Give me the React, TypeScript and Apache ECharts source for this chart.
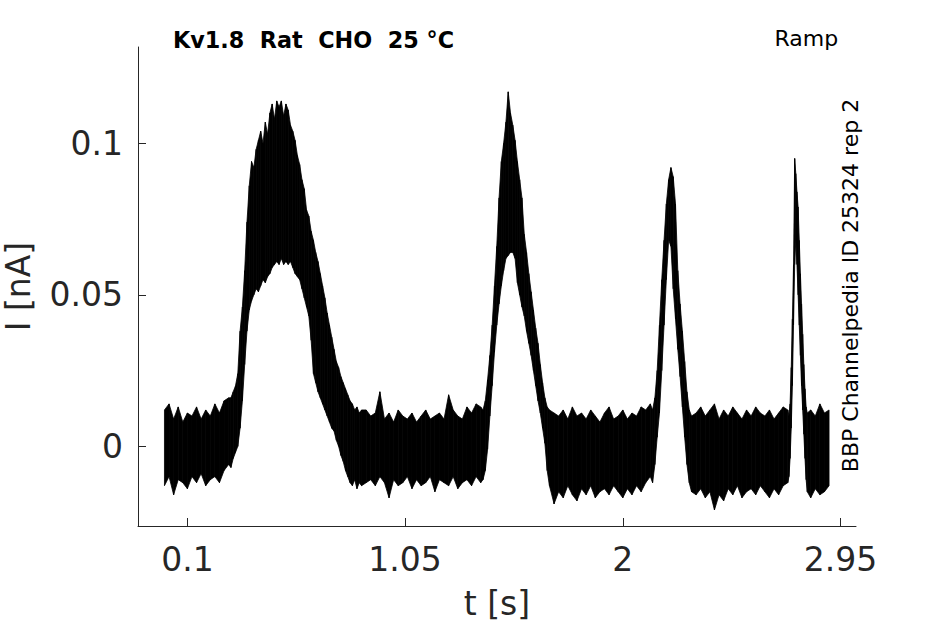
import React, { useEffect, useRef } from "react";
import * as echarts from "echarts";

// ---- axis ticks ----
const X_TICKS = [0.1, 1.05, 2, 2.95];
const X_TICK_LABELS = ["0.1", "1.05", "2", "2.95"];
const Y_TICKS = [0, 0.05, 0.1];
const Y_TICK_LABELS = ["0", "0.05", "0.1"];

// ---- trace envelope (upper / lower extent of the overlaid sweeps) ----
// baseline 0 .. 0.28 s, every 0.02 s
const BASE_A_HI = [0.012, 0.014, 0.009, 0.013, 0.008, 0.011, 0.010, 0.013, 0.009, 0.012, 0.010, 0.014, 0.011, 0.015, 0.016];
const BASE_A_LO = [-0.013, -0.010, -0.016, -0.011, -0.012, -0.014, -0.010, -0.012, -0.009, -0.013, -0.011, -0.010, -0.012, -0.008, -0.006];

// first hump 0.29 .. 0.86 s, every 0.01 s
const HUMP1_HI = [0.016, 0.018, 0.020, 0.024, 0.038, 0.046, 0.058, 0.074, 0.086, 0.094, 0.092, 0.098, 0.101, 0.104, 0.100, 0.107, 0.103, 0.110, 0.113, 0.108, 0.114, 0.112, 0.114, 0.109, 0.113, 0.111, 0.106, 0.104, 0.101, 0.096, 0.093, 0.088, 0.085, 0.078, 0.076, 0.071, 0.068, 0.064, 0.061, 0.057, 0.053, 0.049, 0.044, 0.040, 0.036, 0.032, 0.028, 0.026, 0.023, 0.021, 0.019, 0.017, 0.015, 0.014, 0.012, 0.013, 0.011, 0.012];
const HUMP1_LO = [-0.007, -0.004, -0.002, 0.000, 0.006, 0.015, 0.027, 0.038, 0.045, 0.048, 0.050, 0.052, 0.051, 0.053, 0.055, 0.054, 0.056, 0.057, 0.059, 0.060, 0.061, 0.060, 0.062, 0.060, 0.061, 0.060, 0.061, 0.059, 0.057, 0.056, 0.055, 0.052, 0.049, 0.046, 0.043, 0.035, 0.024, 0.021, 0.018, 0.016, 0.014, 0.012, 0.010, 0.008, 0.006, 0.005, 0.002, 0.000, -0.003, -0.005, -0.008, -0.010, -0.012, -0.013, -0.011, -0.014, -0.012, -0.013];

// baseline 0.88 .. 1.38 s, every 0.02 s
const BASE_B_HI = [0.012, 0.010, 0.011, 0.018, 0.009, 0.011, 0.008, 0.012, 0.010, 0.009, 0.011, 0.008, 0.010, 0.012, 0.009, 0.010, 0.011, 0.009, 0.017, 0.012, 0.010, 0.009, 0.013, 0.011, 0.014, 0.013];
const BASE_B_LO = [-0.012, -0.011, -0.013, -0.010, -0.012, -0.017, -0.011, -0.013, -0.012, -0.010, -0.014, -0.011, -0.013, -0.012, -0.010, -0.015, -0.011, -0.012, -0.013, -0.010, -0.014, -0.012, -0.011, -0.013, -0.010, -0.012];

// second peak 1.39 .. 1.68 s, every 0.01 s
const PEAK2_HI = [0.012, 0.015, 0.022, 0.030, 0.040, 0.053, 0.066, 0.082, 0.094, 0.100, 0.107, 0.117, 0.110, 0.106, 0.101, 0.094, 0.088, 0.082, 0.070, 0.064, 0.057, 0.051, 0.045, 0.039, 0.034, 0.027, 0.021, 0.016, 0.013, 0.012];
const PEAK2_LO = [-0.011, -0.008, -0.001, 0.010, 0.020, 0.031, 0.040, 0.047, 0.053, 0.058, 0.062, 0.063, 0.064, 0.064, 0.062, 0.054, 0.050, 0.046, 0.043, 0.038, 0.034, 0.030, 0.025, 0.020, 0.015, 0.011, 0.006, 0.001, -0.008, -0.013];

// baseline 1.70 .. 2.12 s, every 0.02 s
const BASE_C_HI = [0.011, 0.010, 0.012, 0.009, 0.013, 0.010, 0.011, 0.009, 0.012, 0.010, 0.008, 0.011, 0.013, 0.009, 0.010, 0.012, 0.009, 0.011, 0.010, 0.013, 0.012, 0.014];
const BASE_C_LO = [-0.019, -0.015, -0.017, -0.013, -0.016, -0.018, -0.014, -0.016, -0.013, -0.017, -0.015, -0.014, -0.016, -0.013, -0.015, -0.017, -0.014, -0.016, -0.013, -0.015, -0.012, -0.010];

// third peak 2.13 .. 2.30 s, every 0.01 s
const PEAK3_HI = [0.012, 0.016, 0.025, 0.040, 0.055, 0.068, 0.080, 0.088, 0.092, 0.089, 0.080, 0.058, 0.047, 0.038, 0.028, 0.018, 0.012, 0.010];
const PEAK3_LO = [-0.012, -0.006, 0.003, 0.011, 0.025, 0.040, 0.055, 0.068, 0.066, 0.052, 0.042, 0.032, 0.023, 0.013, 0.003, -0.006, -0.012, -0.015];

// baseline 2.32 .. 2.72 s, every 0.02 s
const BASE_D_HI = [0.011, 0.013, 0.010, 0.012, 0.014, 0.009, 0.012, 0.010, 0.013, 0.011, 0.009, 0.012, 0.010, 0.013, 0.011, 0.010, 0.012, 0.009, 0.011, 0.013, 0.012];
const BASE_D_LO = [-0.016, -0.014, -0.017, -0.015, -0.021, -0.016, -0.018, -0.014, -0.016, -0.013, -0.017, -0.015, -0.014, -0.016, -0.013, -0.015, -0.017, -0.014, -0.016, -0.013, -0.012];

// fourth peak 2.725 .. 2.805 s, every 0.005 s
const PEAK4_HI = [0.010, 0.014, 0.026, 0.042, 0.060, 0.095, 0.090, 0.084, 0.079, 0.068, 0.057, 0.047, 0.037, 0.027, 0.019, 0.013, 0.011];
const PEAK4_LO = [-0.010, -0.004, 0.006, 0.020, 0.040, 0.060, 0.068, 0.060, 0.050, 0.040, 0.030, 0.020, 0.012, 0.004, -0.004, -0.011, -0.015];

// baseline 2.82 .. 2.90 s, every 0.02 s
const BASE_E_HI = [0.012, 0.010, 0.014, 0.011, 0.012];
const BASE_E_LO = [-0.017, -0.014, -0.016, -0.015, -0.013];

const SEG_START = [0, 0.29, 0.88, 1.39, 1.7, 2.13, 2.32, 2.725, 2.82];
const SEG_STEP = [0.02, 0.01, 0.02, 0.01, 0.02, 0.01, 0.02, 0.005, 0.02];
const SEG_HI = [BASE_A_HI, HUMP1_HI, BASE_B_HI, PEAK2_HI, BASE_C_HI, PEAK3_HI, BASE_D_HI, PEAK4_HI, BASE_E_HI];
const SEG_LO = [BASE_A_LO, HUMP1_LO, BASE_B_LO, PEAK2_LO, BASE_C_LO, PEAK3_LO, BASE_D_LO, PEAK4_LO, BASE_E_LO];

// rows: [t, hi, lo]
function buildEnvelope(): number[][] {
  const rows: number[][] = [];
  for (let s = 0; s < SEG_START.length; s++) {
    const hi = SEG_HI[s];
    const lo = SEG_LO[s];
    for (let i = 0; i < hi.length; i++) {
      const t = +(SEG_START[s] + i * SEG_STEP[s]).toFixed(4);
      rows.push([t, hi[i], lo[i]]);
    }
  }
  return rows;
}

const AXIS_COLOR = "#262626";
const FONT = "DejaVu Sans";

export default function App() {
  const ref = useRef<HTMLDivElement>(null);

  useEffect(() => {
    if (!ref.current) return;
    const chart = echarts.init(ref.current, undefined, { renderer: "svg" });
    const rows = buildEnvelope();
    const n = rows.length;
    const option: any = {
      animation: false,
      backgroundColor: "#ffffff",
      grid: { left: 138, right: 89, top: 47, bottom: 98, containLabel: false, outerBoundsMode: "none" },
      xAxis: {
        type: "value",
        min: -0.1155,
        max: 3.0176,
        axisLine: { show: true, onZero: false, lineStyle: { color: AXIS_COLOR, width: 1 } },
        axisTick: { show: true, inside: true, length: 8, customValues: X_TICKS, lineStyle: { color: AXIS_COLOR, width: 1 } },
        axisLabel: {
          customValues: X_TICKS,
          formatter: (v: number) => {
            const k = X_TICKS.indexOf(v);
            return k >= 0 ? X_TICK_LABELS[k] : String(v);
          },
          fontSize: 33,
          fontFamily: FONT,
          color: AXIS_COLOR,
          margin: 17,
        },
        splitLine: { show: false },
        name: "t [s]",
        nameLocation: "middle",
        nameGap: 61,
        nameTextStyle: { fontSize: 33, fontFamily: FONT, color: AXIS_COLOR },
      },
      yAxis: {
        type: "value",
        min: -0.0263,
        max: 0.1318,
        axisLine: { show: true, onZero: false, lineStyle: { color: AXIS_COLOR, width: 1 } },
        axisTick: { show: true, inside: true, length: 8, customValues: Y_TICKS, lineStyle: { color: AXIS_COLOR, width: 1 } },
        axisLabel: {
          customValues: Y_TICKS,
          formatter: (v: number) => {
            const k = Y_TICKS.indexOf(v);
            return k >= 0 ? Y_TICK_LABELS[k] : String(v);
          },
          fontSize: 33,
          fontFamily: FONT,
          color: AXIS_COLOR,
          margin: 15,
        },
        splitLine: { show: false },
        name: "I [nA]",
        nameLocation: "middle",
        nameGap: 103,
        nameRotate: 90,
        nameTextStyle: { fontSize: 33, fontFamily: FONT, color: AXIS_COLOR },
      },
      series: [
        {
          type: "custom",
          data: rows,
          encode: { x: 0, y: [1, 2] },
          silent: true,
          clip: true,
          renderItem: (params: any, api: any) => {
            const i = params.dataIndexInside;
            if (i >= n - 1) return null;
            const t0 = api.value(0, i);
            const h0 = api.value(1, i);
            const l0 = api.value(2, i);
            const t1 = api.value(0, i + 1);
            const h1 = api.value(1, i + 1);
            const l1 = api.value(2, i + 1);
            const pts = [
              api.coord([t0, h0]),
              api.coord([t1, h1]),
              api.coord([t1, l1]),
              api.coord([t0, l0]),
            ];
            return {
              type: "polygon",
              shape: { points: pts },
              style: { fill: "#000000", stroke: "#000000", lineWidth: 0.8 },
            };
          },
        },
      ],
      graphic: [
        {
          type: "text",
          x: 173,
          y: 39.5,
          style: {
            text: "Kv1.8  Rat  CHO  25 °C",
            fill: "#000000",
            fontSize: 22.3,
            fontWeight: "bold",
            fontFamily: FONT,
            align: "left",
            verticalAlign: "middle",
          },
        },
        {
          type: "text",
          x: 774.5,
          y: 38.7,
          style: {
            text: "Ramp",
            fill: "#000000",
            fontSize: 22,
            fontFamily: FONT,
            align: "left",
            verticalAlign: "middle",
          },
        },
        {
          type: "text",
          x: 850,
          y: 285.5,
          rotation: Math.PI / 2,
          style: {
            text: "BBP Channelpedia ID 25324 rep 2",
            fill: "#000000",
            fontSize: 22,
            fontFamily: FONT,
            align: "center",
            verticalAlign: "middle",
          },
        },
      ],
    };
    chart.setOption(option);
    return () => chart.dispose();
  }, []);

  return (
    <div
      ref={ref}
      style={{ position: "fixed", left: 0, top: 0, width: 945, height: 624, background: "#fff" }}
    />
  );
}
